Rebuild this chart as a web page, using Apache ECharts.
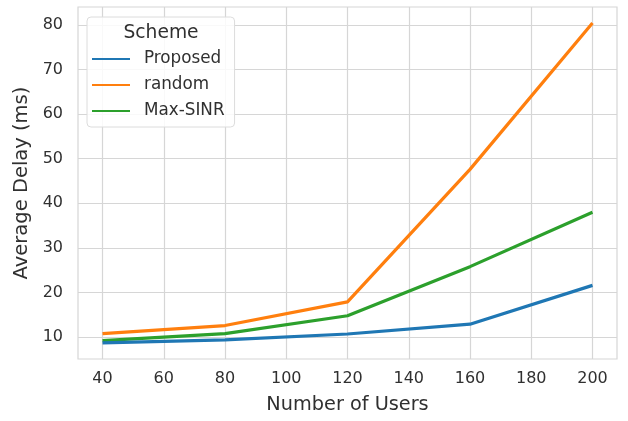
<!DOCTYPE html>
<html>
<head>
<meta charset="utf-8">
<script src="https://cdn.jsdelivr.net/npm/echarts@6/dist/echarts.min.js"></script>
<style>
  html, body { margin: 0; padding: 0; background: #fff; }
  #main { width: 628px; height: 421px; }
</style>
</head>
<body>
<div id="main"></div>
<script>
// 数据
var users = [40, 80, 120, 160, 200];
var proposed = [8.7, 9.4, 10.7, 12.9, 21.6];
var random = [10.8, 12.6, 17.9, 47.6, 80.4];
var maxSinr = [9.2, 10.8, 14.8, 25.8, 38.0];
var seriesNames = ['Proposed', 'random', 'Max-SINR'];
var colors = ['#1f77b4', '#ff7f0e', '#2ca02c'];
// 刻度
var xTicks = [40, 60, 80, 100, 120, 140, 160, 180, 200];
var yTicks = [10, 20, 30, 40, 50, 60, 70, 80];

function pairs(xs, ys) {
    return xs.map(function (x, i) { return [x, ys[i]]; });
}

showLine();

function showLine() {
    var myChart = echarts.init(document.getElementById('main'));
    var textColor = '#303030';
    var gridColor = '#d6d6d6';
    var font = 'DejaVu Sans';

    var option = {
        animation: false,
        color: colors,
        grid: {
            left: 78, right: 11, top: 7, bottom: 62,
            show: true,
            borderColor: gridColor,
            borderWidth: 1.2
        },
        legend: {
            orient: 'vertical',
            left: 87,
            top: 17,
            padding: [32, 10, 6, 5],
            itemWidth: 38,
            itemHeight: 20,
            itemGap: 6,
            backgroundColor: 'rgba(255,255,255,0.85)',
            borderColor: '#dcdcdc',
            borderWidth: 1,
            borderRadius: 4,
            icon: 'path://M0,9 L38,9 L38,11 L0,11 Z',
            textStyle: {
                color: textColor,
                fontFamily: font,
                fontSize: 16.8,
                lineHeight: 20,
                padding: [0, 0, 0, 9]
            },
            data: seriesNames
        },
        graphic: [
            {
                type: 'text',
                x: 161,
                y: 33,
                z: 100,
                style: {
                    text: 'Scheme',
                    fill: textColor,
                    align: 'center',
                    verticalAlign: 'middle',
                    font: '18.7px "DejaVu Sans"'
                }
            }
        ],
        xAxis: {
            type: 'value',
            min: 32,
            max: 208,
            name: 'Number of Users',
            nameLocation: 'middle',
            nameGap: 36,
            nameTextStyle: { color: textColor, fontFamily: font, fontSize: 19.3 },
            axisLine: { show: false },
            axisTick: { show: false, customValues: xTicks },
            axisLabel: {
                color: textColor, fontFamily: font, fontSize: 16, margin: 12,
                customValues: xTicks
            },
            splitLine: { show: true, customValues: xTicks, lineStyle: { color: gridColor, width: 1.2 } }
        },
        yAxis: {
            type: 'value',
            min: 5.1,
            max: 84,
            name: 'Average Delay (ms)',
            nameLocation: 'middle',
            nameGap: 44,
            nameTextStyle: { color: textColor, fontFamily: font, fontSize: 19.5 },
            axisLine: { show: false },
            axisTick: { show: false, customValues: yTicks },
            axisLabel: {
                color: textColor, fontFamily: font, fontSize: 16, margin: 15,
                customValues: yTicks
            },
            splitLine: { show: true, customValues: yTicks, lineStyle: { color: gridColor, width: 1.2 } }
        },
        series: [
            { name: seriesNames[0], type: 'line', data: pairs(users, proposed) },
            { name: seriesNames[1], type: 'line', data: pairs(users, random) },
            { name: seriesNames[2], type: 'line', data: pairs(users, maxSinr) }
        ].map(function (s, i) {
            s.symbol = 'none';
            s.lineStyle = { width: 3.2, color: colors[i] };
            s.itemStyle = { color: colors[i] };
            s.z = 3 - i;
            return s;
        })
    };
    myChart.setOption(option);
}
</script>
</body>
</html>
